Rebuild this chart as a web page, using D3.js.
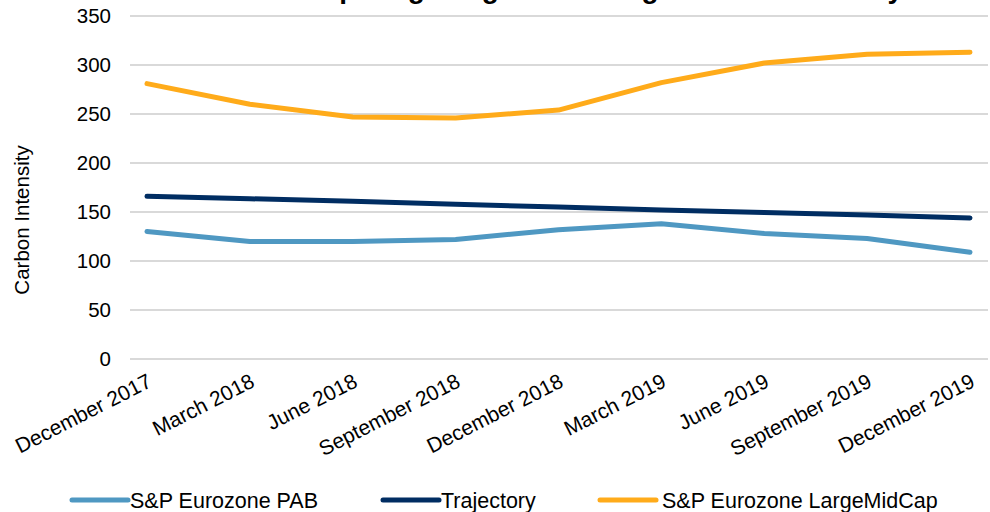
<!DOCTYPE html>
<html>
<head>
<meta charset="utf-8">
<script src="https://cdn.jsdelivr.net/npm/d3@7.9.0/dist/d3.min.js"></script>
<style>
  body { margin: 0; background: #fff; }
  svg { display: block; font-family: "Liberation Sans", Arial, sans-serif; }
</style>
</head>
<body>
<svg id="chart" width="990" height="512"></svg>
<script>
// ---- Data ----
const quarters = ['December 2017', 'March 2018', 'June 2018', 'September 2018', 'December 2018',
  'March 2019', 'June 2019', 'September 2019', 'December 2019'];
const pabValues = [130, 120, 120, 122, 132, 138, 128, 123, 109];
const trajectoryValues = [166, 163.5, 161, 158, 155, 152, 149.5, 147, 144];
const largeMidCapValues = [281, 260, 247, 246, 254, 282, 302, 311, 313];
const yTicks = [0, 50, 100, 150, 200, 250, 300, 350];

const seriesNames = ['S&P Eurozone PAB', 'Trajectory', 'S&P Eurozone LargeMidCap'];
const seriesColors = ['#4f98c2', '#002d62', '#ffab1a'];
const series = [pabValues, trajectoryValues, largeMidCapValues];

// ---- Layout ----
const svg = d3.select('#chart');
const plot = { left: 130, right: 988, top: 16, bottom: 359 };
const font = '"Liberation Sans", Arial, sans-serif';

const x = d3.scalePoint().domain(quarters).range([147, 970]);
const y = d3.scaleLinear().domain([0, 350]).range([plot.bottom, plot.top]);

// title (cropped at the top of the picture, only descenders show)
svg.append('text')
  .attr('x', 590).attr('y', -2.5)
  .attr('text-anchor', 'middle')
  .attr('font-size', 28).attr('font-weight', 'bold')
  .text('Comparing Weighted Average Carbon Intensity');

// gridlines
svg.append('g')
  .selectAll('line')
  .data(yTicks)
  .join('line')
  .attr('x1', plot.left).attr('x2', plot.right)
  .attr('y1', d => y(d)).attr('y2', d => y(d))
  .attr('stroke', '#d9d9d9').attr('stroke-width', 2);

// y axis labels
const yAxis = svg.append('g')
  .attr('transform', `translate(${plot.left - 19},0)`)
  .call(d3.axisLeft(y).tickValues(yTicks).tickSize(0).tickPadding(0));
yAxis.select('.domain').remove();
yAxis.selectAll('text')
  .attr('font-size', 20.5).attr('fill', '#000')
  .attr('font-family', font);

// y axis title
svg.append('text')
  .attr('transform', `translate(29, 220) rotate(-90)`)
  .attr('text-anchor', 'middle')
  .attr('font-size', 20.5)
  .text('Carbon Intensity');

// x axis labels
const xAxis = svg.append('g')
  .attr('transform', `translate(-2, ${plot.bottom + 12})`)
  .call(d3.axisBottom(x).tickSize(0).tickPadding(0));
xAxis.select('.domain').remove();
xAxis.selectAll('text')
  .attr('font-size', 21).attr('fill', '#000')
  .attr('font-family', font)
  .attr('text-anchor', 'end')
  .attr('dy', '0.8em')
  .attr('transform', 'rotate(-27)');

// lines
const line = d3.line()
  .x((d, i) => x(quarters[i]))
  .y(d => y(d));

svg.append('g')
  .selectAll('path')
  .data(series)
  .join('path')
  .attr('d', d => line(d))
  .attr('fill', 'none')
  .attr('stroke', (d, i) => seriesColors[i])
  .attr('stroke-width', 5)
  .attr('stroke-linecap', 'round')
  .attr('stroke-linejoin', 'round');

// legend
const legendX = [72, 383, 600];
const legend = svg.append('g')
  .selectAll('g')
  .data(seriesNames)
  .join('g')
  .attr('transform', (d, i) => `translate(${legendX[i]}, 500)`);
legend.append('line')
  .attr('x1', 0).attr('x2', 56)
  .attr('stroke', (d, i) => seriesColors[i])
  .attr('stroke-width', 5)
  .attr('stroke-linecap', 'round');
legend.append('text')
  .attr('x', (d, i) => i === 2 ? 62 : 58)
  .attr('y', 8)
  .attr('font-size', 21.5)
  .text(d => d);
</script>
</body>
</html>
